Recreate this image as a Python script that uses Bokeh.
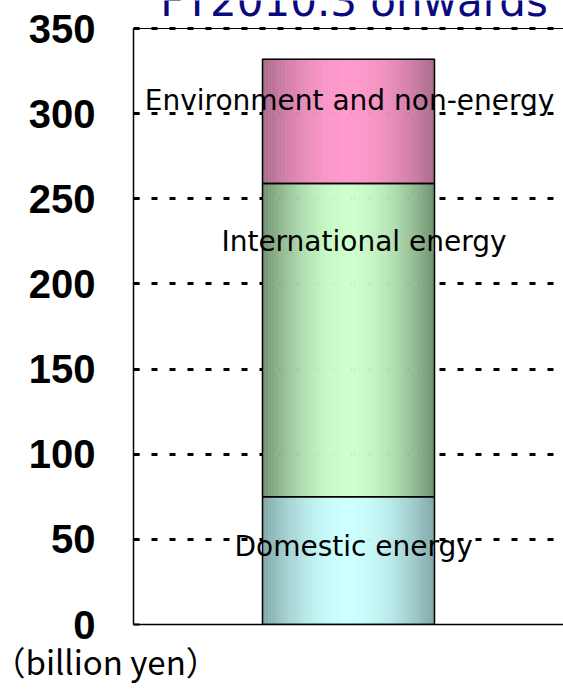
import numpy as np
from bokeh.plotting import figure
from bokeh.models import Range1d, FixedTicker, Title, Span
from bokeh.core.properties import value
from bokeh.embed import file_html
from bokeh.resources import INLINE

# ---- data ----
title_text = "FY2010.3 onwards"
segments = ["Domestic energy", "International energy", "Environment and non-energy"]
values = [75, 184, 73]
y_ticks = [0, 50, 100, 150, 200, 250, 300, 350]
unit_label = "（billion yen）"

# ---- style ----
edge_colors = ["#7fa6a6", "#6e8e6e", "#a86a8a"]
center_colors = ["#ccffff", "#ccffcc", "#ff99cc"]
label_x = [0.03, 0.09, 0.006]
label_y = [46, 225, 308]
bar_center, bar_width, n_strips = 0.0, 1.0, 60
y_top = y_ticks[-1] * 624 / 596          # frame reaches the top edge of the page
title_y = y_ticks[-1] + 27.5 * y_ticks[-1] / 596

p = figure(width=563, height=694, output_backend="svg", toolbar_location=None,
           x_range=Range1d(-1.25, 1.25), y_range=Range1d(0, y_top),
           min_border_left=133, min_border_right=0, min_border_top=0,
           min_border_bottom=70)
p.outline_line_color = None
p.background_fill_color = "white"


def hex2rgb(h):
    h = h.lstrip("#")
    return np.array([int(h[i:i + 2], 16) for i in (0, 2, 4)], dtype=float)


def rgb2hex(c):
    c = np.clip(np.round(c), 0, 255).astype(int)
    return "#%02x%02x%02x" % tuple(c)


bottoms = np.concatenate([[0], np.cumsum(values)[:-1]])
tops = np.cumsum(values)

L, R, B, T, C = [], [], [], [], []
for i in range(len(values)):
    e, c = hex2rgb(edge_colors[i]), hex2rgb(center_colors[i])
    for k in range(n_strips):
        t = (k + 0.5) / n_strips
        f = np.sin(np.pi * t) ** 0.9
        L.append(bar_center - bar_width / 2 + k * bar_width / n_strips)
        R.append(bar_center - bar_width / 2 + (k + 1) * bar_width / n_strips)
        B.append(bottoms[i])
        T.append(tops[i])
        C.append(rgb2hex(e + (c - e) * f))

p.quad(left=L, right=R, bottom=B, top=T, fill_color=C, line_color=C, line_width=0.6)

# grid
p.xgrid.visible = False
p.ygrid.ticker = FixedTicker(ticks=y_ticks[1:])
p.ygrid.grid_line_color = "black"
p.ygrid.grid_line_width = 3
p.ygrid.grid_line_dash = "6 12"
p.ygrid.level = "underlay"
p.add_layout(Span(location=y_ticks[-1], dimension="width", line_color="black",
                  line_width=1, level="underlay"))

p.quad(left=[bar_center - bar_width / 2] * len(values),
       right=[bar_center + bar_width / 2] * len(values),
       bottom=list(bottoms), top=list(tops),
       fill_color=None, line_color="black", line_width=1.5)

# axes
p.yaxis.ticker = FixedTicker(ticks=y_ticks)
p.yaxis.bounds = (y_ticks[0], y_ticks[-1])
p.yaxis.major_label_text_font = "Liberation Sans"
p.yaxis.major_label_text_font_style = "bold"
p.yaxis.major_label_text_font_size = "40px"
p.yaxis.major_label_text_color = "black"
p.yaxis.major_tick_in = 6
p.yaxis.major_tick_out = 0
p.yaxis.major_tick_line_width = 2
p.yaxis.minor_tick_line_color = None
p.yaxis.axis_line_width = 1.5
p.yaxis.major_label_standoff = 38

p.xaxis.ticker = FixedTicker(ticks=[])
p.xaxis.major_label_text_font_size = "0px"
p.xaxis.major_label_standoff = 0
p.xaxis.major_tick_in = 0
p.xaxis.major_tick_out = 0
p.xaxis.minor_tick_in = 0
p.xaxis.minor_tick_out = 0
p.xaxis.major_tick_line_color = None
p.xaxis.minor_tick_line_color = None
p.xaxis.axis_line_width = 1.5

# segment labels
p.text(x=label_x, y=label_y, text=segments, text_font=value("DejaVu Sans"),
       text_font_size="28px", text_align="center", text_baseline="middle",
       text_color="black")

# title (partly above the page edge, as in the original)
p.text(x=[0.032], y=[title_y], text=[title_text], text_font=value("DejaVu Sans"),
       text_font_size="42px", text_align="center", text_baseline="middle",
       text_color="#0a0a80")

p.add_layout(Title(text=unit_label, align="left", offset=-141,
                   text_color="black", text_font="Noto Sans CJK JP",
                   text_font_size="33px", text_font_style="normal",
                   standoff=20), "below")

open("out.html", "w").write(file_html(p, INLINE))
